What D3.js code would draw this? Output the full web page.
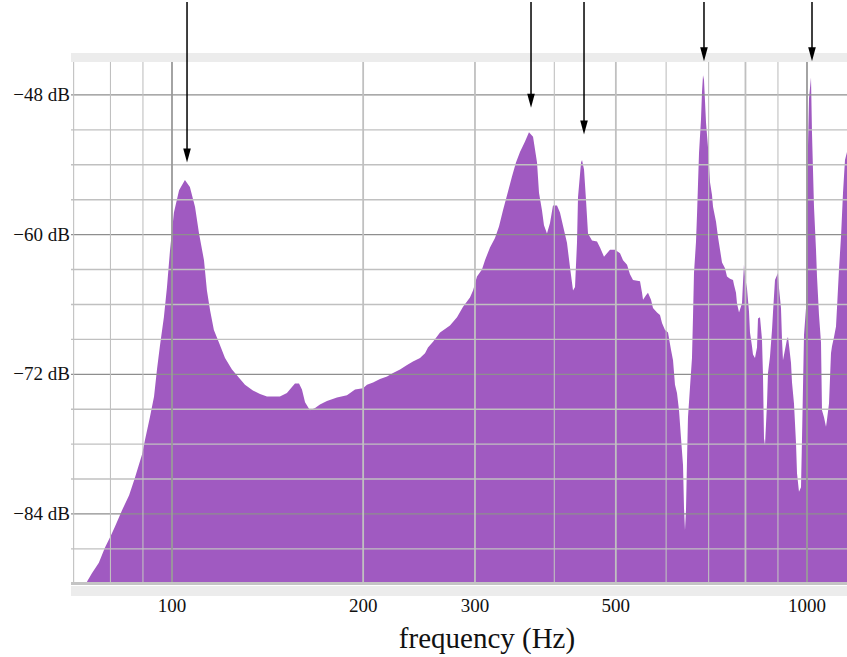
<!DOCTYPE html>
<html>
<head>
<meta charset="utf-8">
<script src="https://cdn.jsdelivr.net/npm/d3@7"></script>
<style>
  body { margin: 0; background: #fff; }
  svg { display: block; }
  text { font-family: "Liberation Serif", "Times New Roman", serif; fill: #111; }
</style>
</head>
<body>
<svg width="847" height="657"></svg>
<script>
// spectrum envelope (Hz, dB)
const freqs = [73.5, 74.8, 76.7, 78.4, 80.2, 81.3, 83.4, 85.6, 87.4, 89.7, 90.7, 92.3, 93.7, 94.7, 95.7, 97.1, 98.2, 99.3,
  100.7, 102.6, 104.8, 106.7, 108.7, 110.3, 112.3, 113.5, 114.8, 116.4, 118.6, 121.2, 124.3, 127.5, 130.3, 134.1, 137.6, 141.1,
  147.9, 151.7, 154.5, 156.2, 158.5, 160.2, 162.0, 164.9, 168.0, 171.0, 175.4, 181.9, 188.6, 194.2, 199.9, 202.8, 207.3, 212.6,
  218.1, 222.9, 228.6, 234.5, 239.6, 245.8, 250.3, 253.0, 257.7, 264.3, 274.0, 281.1, 287.3, 294.6, 297.9, 302.2, 307.7, 311.1,
  316.8, 322.6, 327.3, 332.1, 338.2, 343.1, 348.1, 353.2, 359.7, 364.9, 370.3, 375.7, 378.4, 382.5, 385.3, 389.5, 393.8, 398.1,
  403.9, 408.3, 414.3, 418.8, 423.4, 428.1, 431.2, 434.3, 435.9, 440.7, 442.3, 445.5, 448.7, 452.0, 458.6, 467.0, 472.1, 479.0,
  484.2, 489.5, 498.5, 507.6, 513.2, 520.7, 526.3, 532.1, 545.8, 549.8, 551.8, 557.8, 561.8, 568.0, 572.1, 580.5, 586.8, 591.1,
  597.6, 604.1, 610.7, 615.2, 619.6, 624.1, 628.7, 633.3, 637.9, 640.2, 642.5, 644.8, 647.2, 649.5, 654.3, 659.0, 661.4, 663.8,
  668.7, 671.1, 673.5, 676.0, 680.9, 683.4, 685.9, 688.3, 693.4, 698.4, 703.5, 708.6, 711.2, 719.0, 724.2, 729.5, 734.8, 742.8,
  748.2, 756.4, 764.7, 767.4, 773.0, 775.8, 781.5, 790.0, 792.9, 795.7, 798.6, 804.4, 810.3, 813.2, 819.2, 822.1, 828.1, 834.2,
  837.2, 843.3, 849.4, 852.5, 855.6, 858.7, 865.0, 868.1, 874.4, 880.8, 884.0, 890.4, 896.9, 900.2, 903.5, 910.0, 913.3, 916.6,
  923.3, 930.0, 933.4, 936.8, 943.6, 947.1, 953.9, 960.9, 964.4, 971.4, 978.5, 982.0, 989.2, 996.4, 1000, 1007.3, 1014.6, 1018.3,
  1025.7, 1033.2, 1036.9, 1044.5, 1052.1, 1055.9, 1063.6, 1071.3, 1075.2, 1083.1, 1090.9, 1094.9, 1102.9, 1110.9, 1114.9, 1123.0,
  1131.2, 1139.5, 1147.7, 1156.1, 1170];
const levels = [-89.8, -89.1, -88.2, -86.9, -85.8, -85.1, -83.7, -82.4, -80.9, -78.9, -77.6, -75.7, -73.9, -71.6, -69.6, -67.1, -64.5, -61.3,
  -58.1, -56.2, -55.3, -55.9, -57.6, -59.9, -62.2, -64.8, -66.5, -68.2, -69.3, -70.6, -71.6, -72.3, -72.9, -73.4, -73.7, -73.9,
  -73.9, -73.6, -73.1, -72.8, -72.8, -73.3, -74.4, -75.1, -74.9, -74.6, -74.3, -74.0, -73.8, -73.3, -73.2, -72.9, -72.7, -72.4,
  -72.2, -71.9, -71.6, -71.2, -70.9, -70.6, -70.2, -69.7, -69.2, -68.4, -67.8, -67.1, -66.2, -65.4, -64.8, -63.6, -63.0, -62.2,
  -61.1, -60.3, -59.3, -57.9, -56.3, -55.0, -53.8, -52.9, -52.0, -51.2, -51.6, -53.8, -56.4, -57.9, -59.2, -59.9, -59.0, -57.5,
  -57.5, -58.1, -59.6, -60.7, -62.8, -64.8, -64.5, -60.7, -56.8, -53.8, -53.6, -54.4, -57.0, -59.9, -60.5, -60.6, -61.1, -61.9,
  -61.6, -61.3, -61.3, -61.6, -62.2, -62.6, -63.4, -63.9, -64.0, -65.0, -65.6, -65.2, -65.0, -65.6, -66.3, -66.7, -66.9, -67.6,
  -68.2, -68.4, -69.9, -70.8, -72.9, -73.6, -75.1, -77.5, -79.8, -83.5, -85.4, -83.7, -79.4, -75.7, -73.1, -70.6, -67.1, -63.3,
  -60.6, -58.3, -55.7, -53.0, -50.1, -47.7, -46.3, -46.7, -50.4, -52.5, -55.5, -56.6, -57.6, -58.9, -60.2, -61.3, -62.4, -62.9,
  -63.6, -63.8, -63.9, -64.3, -65.0, -65.9, -66.7, -65.9, -64.1, -62.6, -63.6, -64.6, -66.6, -68.4, -69.6, -70.3, -70.6, -69.7,
  -67.2, -67.1, -69.0, -72.1, -77.5, -78.1, -74.5, -71.9, -70.5, -68.2, -66.7, -63.9, -63.5, -63.3, -64.6, -66.3, -69.0, -70.8,
  -69.9, -69.0, -68.8, -69.5, -71.0, -72.7, -74.5, -77.9, -80.5, -82.1, -81.7, -77.6, -68.6, -66.3, -56.4, -48.3, -46.5, -51.3,
  -57.6, -61.3, -63.6, -66.9, -69.3, -75.1, -75.7, -76.5, -75.9, -74.5, -70.2, -69.6, -68.8, -67.9, -66.3, -63.0,
  -60.2, -56.4, -53.6, -52.9, -52.9];

const gridFreqs = [70, 80, 90, 100, 200, 300, 400, 500, 600, 700, 800, 900, 1000];
const freqTicks = [100, 200, 300, 500, 1000];
const gridLevels = [-87, -84, -81, -78, -75, -72, -69, -66, -63, -60, -57, -54, -51, -48];
const levelTicks = [-48, -60, -72, -84];

// peaks marked with arrows (Hz, dB at arrow tip)
const arrowFreqs = [105.6, 367.6, 445.5, 688.3, 1018.3];
const arrowTips = [-53.8, -49.1, -51.4, -45.1, -45.1];

const svg = d3.select("svg");
const plotLeft = 71, plotRight = 847, plotTop = 62, plotBottom = 584;

const x = d3.scaleLog().domain([100, 1000]).range([172, 807]);
const y = d3.scaleLinear().domain([-90, -45]).range([583.8, 60]);

const data = freqs.map((f, i) => ({f: f, db: levels[i]}));

svg.append("defs").append("clipPath").attr("id", "plot")
  .append("rect").attr("x", plotLeft).attr("y", plotTop)
  .attr("width", plotRight - plotLeft).attr("height", plotBottom - plotTop);

// top band
svg.append("rect")
  .attr("x", plotLeft).attr("y", 53).attr("width", plotRight - plotLeft).attr("height", 9)
  .attr("fill", "#ececec");

// spectrum
const area = d3.area()
  .x(d => x(d.f))
  .y0(y(-90) + 1)
  .y1(d => y(d.db))
  .curve(d3.curveLinear);

svg.append("path")
  .datum(data)
  .attr("clip-path", "url(#plot)")
  .attr("fill", "#a05ac1")
  .attr("d", area);

// grid on top of the fill
svg.append("g").selectAll("line").data(gridLevels).join("line")
  .attr("x1", plotLeft).attr("x2", plotRight)
  .attr("y1", d => y(d)).attr("y2", d => y(d))
  .attr("stroke", d => levelTicks.includes(d) ? "#8e8e8e" : "#c0c0c0")
  .attr("stroke-width", d => levelTicks.includes(d) ? 1.2 : 1.4);

svg.append("g").selectAll("line").data(gridFreqs).join("line")
  .attr("x1", d => x(d)).attr("x2", d => x(d))
  .attr("y1", plotTop).attr("y2", plotBottom - 2)
  .attr("stroke", d => (d === 100 || d === 1000) ? "#9a9a9a" : "#c0c0c0")
  .attr("stroke-width", d => (d === 100 || d === 1000 || freqTicks.includes(d) || d === 800) ? 1.8 : 1.1);

// bottom axis line and band
svg.append("rect")
  .attr("x", plotLeft).attr("y", 582).attr("width", plotRight - plotLeft).attr("height", 3)
  .attr("fill", "#c4c4c4");
svg.append("rect")
  .attr("x", plotLeft).attr("y", 586).attr("width", plotRight - plotLeft).attr("height", 10)
  .attr("fill", "#ececec");

// tick labels
svg.append("g").selectAll("text").data(freqTicks).join("text")
  .attr("x", d => x(d)).attr("y", 612)
  .attr("text-anchor", "middle")
  .style("font-size", "19px")
  .text(d => d);

svg.append("g").selectAll("text").data(levelTicks).join("text")
  .attr("x", 70).attr("y", d => y(d) + 6)
  .attr("text-anchor", "end")
  .style("font-size", "19px")
  .text(d => "\u2212" + Math.abs(d) + " dB");

svg.append("text")
  .attr("x", 487).attr("y", 648)
  .attr("text-anchor", "middle")
  .style("font-size", "29px")
  .text("frequency (Hz)");

// arrows
arrowFreqs.forEach((f, i) => {
  const ax = x(f), tip = y(arrowTips[i]);
  svg.append("line")
    .attr("x1", ax).attr("x2", ax)
    .attr("y1", 2).attr("y2", tip - 10)
    .attr("stroke", "#000").attr("stroke-width", 1.5);
  svg.append("path")
    .attr("d", `M${ax},${tip} L${ax - 3.8},${tip - 14} L${ax + 3.8},${tip - 14} Z`)
    .attr("fill", "#000");
});
</script>
</body>
</html>
